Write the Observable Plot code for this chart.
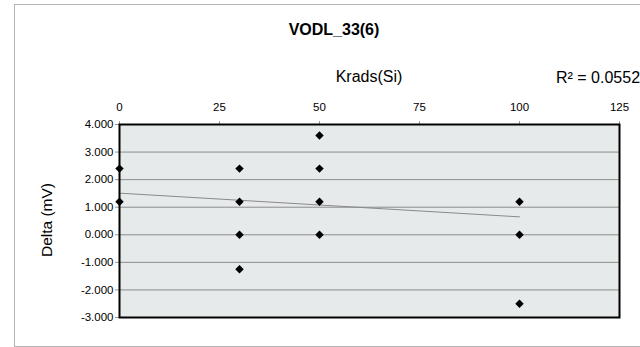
<!DOCTYPE html>
<html><head>
<meta charset="utf-8">
<script src="https://cdn.jsdelivr.net/npm/d3@7"></script>
<script src="https://cdn.jsdelivr.net/npm/@observablehq/plot@0.6"></script>
<style>
body{margin:0;background:#fff;font-family:"Liberation Sans",Arial,sans-serif;}
#wrap{position:relative;width:640px;height:347px;overflow:hidden;}
#border{position:absolute;left:14px;top:4px;width:660px;height:343px;border:1px solid #b4b4b4;box-sizing:border-box;}
#chart{position:absolute;left:0;top:0;}
.t{position:absolute;white-space:nowrap;color:#000;transform:translate(-50%,-50%);line-height:1;}
</style></head>
<body><div id="wrap"><div id="border"></div><div id="chart"></div>
<div class="t" id="title" style="left:334px;top:30px;font-size:16px;font-weight:bold;">VODL_33(6)</div>
<div class="t" id="xlab" style="left:369px;top:77px;font-size:16px;">Krads(Si)</div>
<div class="t" id="r2" style="left:598px;top:78px;font-size:16px;">R² = 0.0552</div>
<div class="t" id="ylab" style="left:47px;top:220px;font-size:15.5px;transform:translate(-50%,-50%) rotate(-90deg);">Delta (mV)</div>
</div>
<script>
const doseKrads = [0, 0, 30, 30, 30, 30, 50, 50, 50, 50, 100, 100, 100];
const deltaMv  = [2.4, 1.2, 2.4, 1.2, 0, -1.25, 3.6, 2.4, 1.2, 0, 1.2, 0, -2.5];
const xTicks = [0, 25, 50, 75, 100, 125];
const yTicks = [-3, -2, -1, 0, 1, 2, 3, 4];
const trendX = [0, 100];
const trendY = [1.51, 0.65];

const points = doseKrads.map((x, i) => ({x, y: deltaMv[i]}));
const trend = trendX.map((x, i) => ({x, y: trendY[i]}));

const chart = Plot.plot({
  width: 640,
  height: 347,
  marginLeft: 119,
  marginRight: 21,
  marginTop: 124,
  marginBottom: 30,
  style: {fontFamily: '"Liberation Sans", Arial, sans-serif', fontSize: "11.5px", background: "transparent"},
  x: {domain: [0, 125], label: null},
  y: {domain: [-3, 4], label: null},
  marks: [
    Plot.frame({fill: "#e6eaea", stroke: null}),
    Plot.gridY(yTicks, {stroke: "#8c8c8c", strokeOpacity: 1, strokeWidth: 1}),
    Plot.axisX(xTicks, {anchor: "top", tickSize: 4, tickPadding: 10, stroke: "#999", tickFormat: d => String(d), fill: "#000", fontSize: 11.5}),
    Plot.axisY(yTicks, {anchor: "left", tickSize: 4, tickPadding: 2, stroke: "#999", tickFormat: d => d.toFixed(3), fill: "#000", fontSize: 11.5}),
    Plot.line(trend, {x: "x", y: "y", stroke: "#8a8a8a", strokeWidth: 1}),
    Plot.dot(points, {x: "x", y: "y", symbol: "diamond2", r: 3.8, fill: "#000", stroke: null}),
    Plot.frame({stroke: "#000", strokeWidth: 2})
  ]
});
document.getElementById("chart").appendChild(chart);
</script>
</body></html>
